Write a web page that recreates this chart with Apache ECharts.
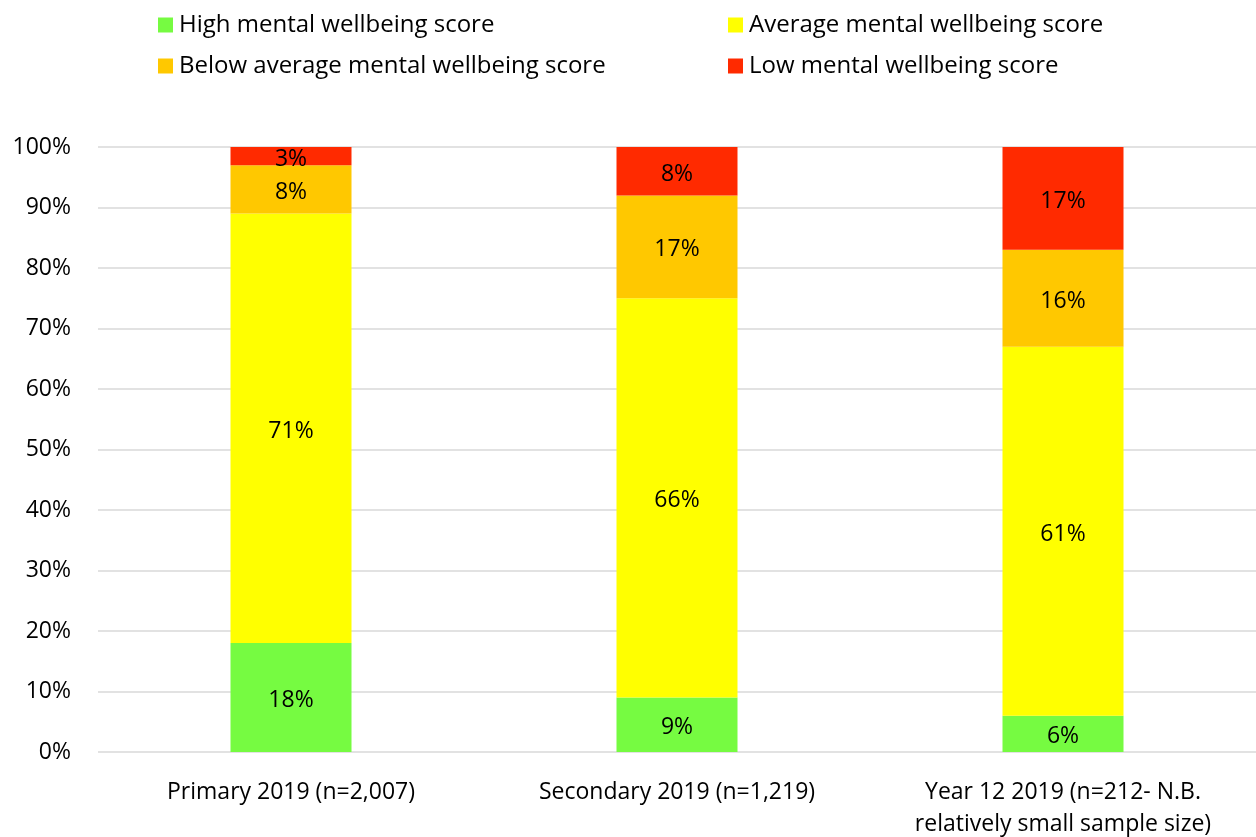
<!DOCTYPE html>
<html>
<head>
<meta charset="utf-8">
<script src="https://cdn.jsdelivr.net/npm/echarts@6/dist/echarts.min.js"></script>
<style>
html, body { margin: 0; padding: 0; background: #fff; }
#Chart { width: 1256px; height: 837px; }
</style>
</head>
<body>
<div id="Chart"></div>
<script>
var categories = ["Primary 2019 (n=2,007)", "Secondary 2019 (n=1,219)", "Year 12 2019 (n=212- N.B.\nrelatively small sample size)"];
var high = [18, 9, 6];
var average = [71, 66, 61];
var below = [8, 17, 16];
var low = [3, 8, 17];
var yTicks = [0, 10, 20, 30, 40, 50, 60, 70, 80, 90, 100];

var fontFamily = "'Open Sans', 'Liberation Sans', sans-serif";
var colHigh = "#76fb41";
var colAvg = "#ffff00";
var colBelow = "#ffc800";
var colLow = "#ff2a00";

function makeSeries(name, data, color) {
    return {
        name: name,
        type: 'bar',
        stack: 'total',
        barWidth: 121,
        data: data,
        itemStyle: { color: color },
        label: {
            show: true,
            position: 'inside',
            offset: [0, 3],
            formatter: '{c}%',
            color: '#000',
            fontSize: 23,
            fontFamily: fontFamily
        }
    };
}

var myChart = echarts.init(document.getElementById("Chart"));
var legendText = { fontSize: 24, color: '#000', fontFamily: fontFamily, padding: [0, 0, 0, 1] };
var option = {
    animation: false,
    legend: [{
        orient: 'vertical',
        left: 153,
        top: 8,
        itemWidth: 15,
        itemHeight: 15,
        itemGap: 17,
        icon: 'rect',
        textStyle: legendText,
        data: ["High mental wellbeing score", "Below average mental wellbeing score"]
    }, {
        orient: 'vertical',
        left: 723,
        top: 8,
        itemWidth: 15,
        itemHeight: 15,
        itemGap: 17,
        icon: 'rect',
        textStyle: legendText,
        data: ["Average mental wellbeing score", "Low mental wellbeing score"]
    }],
    grid: {
        left: 98,
        right: 0,
        top: 147,
        bottom: 85,
        outerBoundsMode: 'none'
    },
    xAxis: {
        type: 'category',
        data: categories,
        axisLine: { show: false },
        axisTick: { show: false },
        axisLabel: {
            color: '#000',
            fontSize: 23,
            fontFamily: fontFamily,
            lineHeight: 32,
            margin: 24,
            interval: 0
        }
    },
    yAxis: {
        type: 'value',
        min: 0,
        max: 100,
        interval: 10,
        axisLine: { show: false },
        axisTick: { show: false },
        axisLabel: {
            color: '#000',
            fontSize: 23,
            fontFamily: fontFamily,
            margin: 27,
            formatter: function (v) { return yTicks.indexOf(v) >= 0 ? v + '%' : ''; }
        },
        splitLine: { lineStyle: { color: '#d9d9d9', width: 1.5 } }
    },
    series: [
        makeSeries("High mental wellbeing score", high, colHigh),
        makeSeries("Average mental wellbeing score", average, colAvg),
        makeSeries("Below average mental wellbeing score", below, colBelow),
        makeSeries("Low mental wellbeing score", low, colLow)
    ]
};
myChart.setOption(option);
window.addEventListener("resize", function () {
    myChart.resize();
});
</script>
</body>
</html>
